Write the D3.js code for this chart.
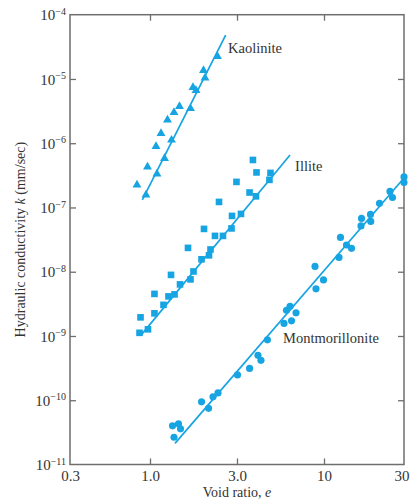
<!DOCTYPE html>
<html>
<head>
<meta charset="utf-8">
<script src="https://cdn.jsdelivr.net/npm/d3@7"></script>
<style>
  body { margin: 0; background: #fff; }
  text { font-family: "Liberation Serif", "Times New Roman", serif; fill: #333; }
</style>
</head>
<body>
<div id="chart"></div>
<script>
// axis ticks
const xTicks = [0.3, 1, 3, 10, 30];
const xTickLabels = ["0.3", "1.0", "3.0", "10", "30"];
const yExponents = [-4, -5, -6, -7, -8, -9, -10, -11];

// Kaolinite (triangles): void ratio e, hydraulic conductivity k (mm/sec)
const kaoliniteE = [0.822, 0.941, 0.963, 1.092, 1.079, 1.201, 1.149, 1.312, 1.247, 1.354,
                    1.451, 1.668, 1.721, 1.788, 1.965, 2.003, 2.345];
const kaoliniteK = [2.24e-7, 1.57e-7, 4.28e-7, 3.33e-7, 8.9e-7, 5.8e-7, 1.42e-6, 1.12e-6, 2.30e-6, 3.01e-6,
                    3.73e-6, 3.47e-6, 7.37e-6, 6.62e-6, 1.36e-5, 1.04e-5, 2.24e-5];
const kaoliniteFit = [[0.891, 1.31e-7], [2.60, 4.83e-5]];

// Illite (squares)
const illiteE = [0.854, 0.970, 0.867, 1.058, 1.186, 1.058, 1.263, 1.363, 1.304, 1.461,
                 1.668, 1.732, 1.616, 1.917, 2.107, 2.147, 1.978, 2.272, 2.513, 2.390,
                 2.799, 2.817, 3.17, 2.98, 3.57, 3.90, 3.74, 3.93, 4.70, 4.77];
const illiteK = [1.12e-9, 1.27e-9, 1.95e-9, 2.25e-9, 3.05e-9, 4.52e-9, 4.13e-9, 4.44e-9, 8.93e-9, 6.35e-9,
                 7.60e-9, 1.01e-8, 2.35e-8, 1.56e-8, 1.80e-8, 2.22e-8, 4.64e-8, 3.61e-8, 3.61e-8, 1.22e-7,
                 4.72e-8, 7.39e-8, 7.94e-8, 2.50e-7, 1.71e-7, 1.49e-7, 5.49e-7, 3.51e-7, 2.69e-7, 3.45e-7];
const illiteFit = [[0.877, 1.04e-9], [6.25, 6.57e-7]];

// Montmorillonite (circles)
const montE = [1.354, 1.329, 1.433, 1.470, 1.917, 2.094, 2.216, 2.360, 3.02, 3.57,
               4.01, 4.18, 4.57, 5.75, 5.95, 6.25, 6.38, 6.79, 8.83, 8.95,
               9.93, 12.29, 12.54, 13.62, 14.59, 16.62, 16.74, 18.94, 19.0, 21.43,
               24.75, 25.61, 30, 30];
const montK = [2.65e-11, 4.00e-11, 4.30e-11, 3.59e-11, 9.44e-11, 7.48e-11, 1.13e-10, 1.30e-10, 2.48e-10, 3.13e-10,
               5.00e-10, 4.18e-10, 8.71e-10, 1.57e-9, 2.51e-9, 2.89e-9, 1.72e-9, 2.29e-9, 1.21e-8, 5.41e-9,
               7.46e-9, 1.67e-8, 3.42e-8, 2.61e-8, 2.31e-8, 5.16e-8, 6.76e-8, 7.80e-8, 6.07e-8, 1.16e-7,
               1.78e-7, 1.43e-7, 2.99e-7, 2.45e-7];
const montFit = [[1.371, 2.13e-11], [30, 2.88e-7]];

// curve labels [e, k, text]
const curveLabels = [
  [2.68, 2.54e-5, "Kaolinite"],
  [6.70, 3.70e-7, "Illite"],
  [5.67, 7.8e-10, "Montmorillonite"]
];

const W = 410, H = 504;
const blue = "#16a4e2";
const axisColor = "#6e6e6e";

const svg = d3.select("#chart").append("svg")
  .attr("width", W).attr("height", H);

// the printed axis is not evenly logarithmic, so follow its tick positions
const x = d3.scaleLog().domain(xTicks).range([70, 150, 237, 324, 404]);
const y = d3.scaleLog().domain([1e-11, 1e-4]).range([464.5, 14.7]);
const yTicks = yExponents.map(p => Math.pow(10, p));

// frame
svg.append("rect")
  .attr("x", x(0.3)).attr("y", y(1e-4))
  .attr("width", x(30) - x(0.3)).attr("height", y(1e-11) - y(1e-4))
  .attr("fill", "none").attr("stroke", axisColor).attr("stroke-width", 1.5);

const styleAxis = g => {
  g.select(".domain").remove();
  g.selectAll(".tick line").attr("stroke", axisColor).attr("stroke-width", 1.3);
};

// bottom axis with labels
svg.append("g")
  .attr("transform", `translate(0,${y(1e-11)})`)
  .call(d3.axisBottom(x).tickValues(xTicks).tickSize(-6).tickPadding(6)
    .tickFormat((d, i) => xTickLabels[i]))
  .call(styleAxis)
  .call(g => g.selectAll(".tick text")
    .attr("font-family", "Liberation Serif").attr("font-size", 15).attr("fill", "#333"))
  .call(g => g.selectAll(".tick").filter(d => d == 0.3 || d == 30).select("line").remove())
  // last label sits at the page edge; nudge it in so it is not clipped
  .call(g => g.selectAll(".tick").filter(d => d == 30).select("text").attr("x", -2.5));

// top axis
svg.append("g")
  .attr("transform", `translate(0,${y(1e-4)})`)
  .call(d3.axisTop(x).tickValues(xTicks.slice(1, -1)).tickSize(-6).tickFormat(""))
  .call(styleAxis);

// left axis, labels as 10 with superscript
const left = svg.append("g")
  .attr("transform", `translate(${x(0.3)},0)`)
  .call(d3.axisLeft(y).tickValues(yTicks).tickSize(-6).tickFormat(""))
  .call(styleAxis);
left.selectAll(".tick").filter((d, i) => i == 0 || i == yTicks.length - 1).select("line").remove();
left.selectAll(".tick").append("text")
  .attr("x", -4).attr("dy", "0.35em")
  .attr("text-anchor", "end")
  .attr("font-size", 15).attr("fill", "#333")
  .each(function (d, i) {
    const t = d3.select(this);
    t.append("tspan").text("10");
    t.append("tspan").attr("dy", "-0.55em").attr("font-size", 10).text("\u2212" + (-yExponents[i]));
  });

// right axis
svg.append("g")
  .attr("transform", `translate(${x(30)},0)`)
  .call(d3.axisRight(y).tickValues(yTicks.slice(1, -1)).tickSize(-6).tickFormat(""))
  .call(styleAxis);

// axis titles
svg.append("text")
  .attr("transform", `translate(25,${(y(1e-4) + y(1e-11)) / 2}) rotate(-90)`)
  .attr("text-anchor", "middle").attr("font-size", 14)
  .call(t => {
    t.append("tspan").text("Hydraulic conductivity ");
    t.append("tspan").attr("font-style", "italic").text("k");
    t.append("tspan").text(" (mm/sec)");
  });

svg.append("text")
  .attr("x", (x(0.3) + x(30)) / 2).attr("y", 497)
  .attr("text-anchor", "middle").attr("font-size", 14)
  .call(t => {
    t.append("tspan").text("Void ratio, ");
    t.append("tspan").attr("font-style", "italic").text("e");
  });

// fitted lines
const line = d3.line().x(d => x(d[0])).y(d => y(d[1]));
[kaoliniteFit, illiteFit, montFit].forEach(fit => {
  svg.append("path").attr("d", line(fit))
    .attr("fill", "none").attr("stroke", blue).attr("stroke-width", 1.7);
});

// markers
const drawSymbols = (es, ks, type, size) => {
  svg.append("g").selectAll("path")
    .data(es.map((e, i) => [e, ks[i]]))
    .join("path")
    .attr("transform", d => `translate(${x(d[0])},${y(d[1])})`)
    .attr("d", d3.symbol().type(type).size(size))
    .attr("fill", blue);
};
drawSymbols(kaoliniteE, kaoliniteK, d3.symbolTriangle, 34);
drawSymbols(illiteE, illiteK, d3.symbolSquare, 44);
drawSymbols(montE, montK, d3.symbolCircle, 40);

// curve names
svg.append("g").selectAll("text")
  .data(curveLabels)
  .join("text")
  .attr("x", d => x(d[0])).attr("y", d => y(d[1]))
  .attr("font-size", 14.5)
  .text(d => d[2]);
</script>
</body>
</html>
